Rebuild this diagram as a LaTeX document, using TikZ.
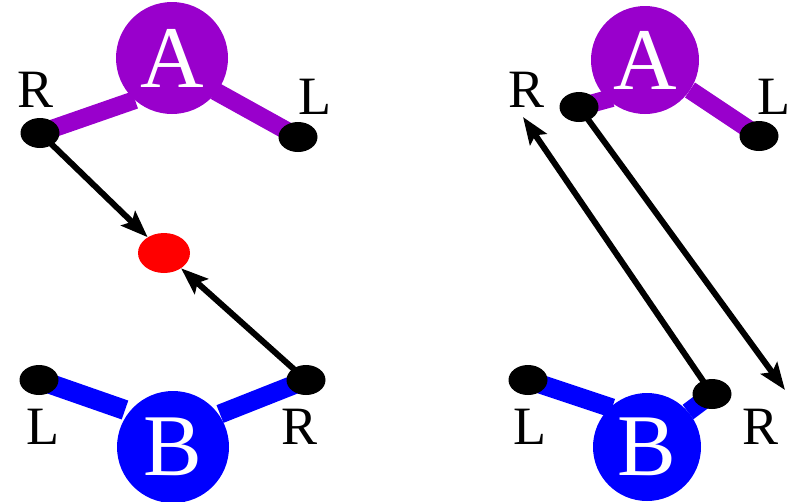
\documentclass[tikz,border=0pt]{standalone}
\usepackage{fontspec}
\setmainfont{Liberation Serif}
\usetikzlibrary{shapes.geometric,arrows.meta}
\definecolor{apurple}{RGB}{153,0,204}
\definecolor{bblue}{RGB}{0,0,255}
\pgfdeclarelayer{background}
\pgfsetlayers{background,main}
\tikzset{
  bigcirc/.style={circle,minimum size=112pt,inner sep=0pt,text=white,font=\fontsize{88}{88}\selectfont},
  blackdot/.style={ellipse,fill=black,minimum width=39pt,minimum height=30pt,inner sep=0pt},
  reddot/.style={ellipse,fill=red,minimum width=52pt,minimum height=40pt,inner sep=0pt},
  lbl/.style={inner sep=0pt,font=\fontsize{54}{54}\selectfont},
  arm/.style={line width=18pt},
  arr/.style={line width=6pt,-{Stealth[length=27pt,width=20pt,inset=5pt]}},
}
\begin{document}
\begin{tikzpicture}[x=1pt,y=-1pt]
\useasboundingbox (0,0) rectangle (795,501);
% ---------- left panel ----------
\node[bigcirc,fill=apurple] (A1) at (172,58) {A};
\node[blackdot] (A1R) at (40,133) {};
\node[blackdot] (A1L) at (298,137) {};
\node[lbl] (lA1R) at (36,90) {R};
\node[lbl] (lA1L) at (315,97) {L};
\coordinate (A1Rend) at (135,100);
\coordinate (A1Lend) at (215,91);

\node[bigcirc,fill=bblue] (B1) at (173,447) {B};
\node[blackdot] (B1L) at (39,380) {};
\node[blackdot] (B1R) at (306,380) {};
\node[lbl] (lB1L) at (43,427) {L};
\node[lbl] (lB1R) at (300,427) {R};
\coordinate (B1Lend) at (125,410);
\coordinate (B1Rend) at (220,414);

\node[reddot] (X) at (164,253) {};

\begin{pgfonlayer}{background}
\draw[arm,apurple] (A1R.center) -- (A1Rend);
\draw[arm,apurple] (A1L.center) -- (A1Lend);
\draw[arm,line width=20pt,bblue] (B1L.center) -- (B1Lend);
\draw[arm,line width=19pt,bblue] (B1R.center) -- (B1Rend);
\end{pgfonlayer}
\draw[arr] (A1R.center) -- (X);
\draw[arr] (B1R.center) -- (X);

% ---------- right panel ----------
\node[bigcirc,fill=apurple,minimum size=108pt] (A2) at (645,60) {A};
\node[blackdot] (A2R) at (579,107) {};
\node[blackdot] (A2L) at (759,136) {};
\node[lbl] (lA2R) at (527,90) {R};
\node[lbl] (lA2L) at (774,97) {L};
\coordinate (A2Rend) at (612,98);
\coordinate (A2Lend) at (690,90);

\node[bigcirc,fill=bblue,minimum size=108pt] (B2) at (647,447) {B};
\node[blackdot] (B2L) at (528,380) {};
\node[blackdot] (B2R) at (712,394) {};
\node[lbl] (lB2L) at (530,427) {L};
\node[lbl] (lB2R) at (760,427) {R};
\coordinate (B2Lend) at (612,408);
\coordinate (B2Rend) at (688,412);

\coordinate (tipUp) at (523,117);
\coordinate (tipDown) at (785,390);

\begin{pgfonlayer}{background}
\draw[arm,apurple] (A2R.center) -- (A2Rend);
\draw[arm,apurple] (A2L.center) -- (A2Lend);
\draw[arm,line width=19pt,bblue] (B2L.center) -- (B2Lend);
\draw[arm,bblue] (B2R.center) -- (B2Rend);
\draw[arr] (B2R.center) -- (tipUp);
\draw[arr] (A2R.center) -- (tipDown);
\end{pgfonlayer}
\end{tikzpicture}
\end{document}
